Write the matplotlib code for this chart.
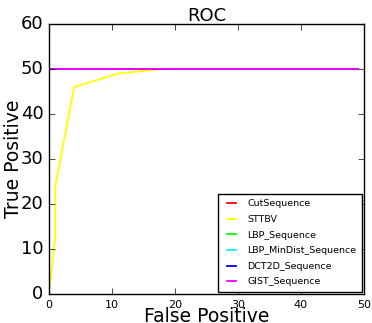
import numpy as np
import matplotlib
matplotlib.use('Agg')
import matplotlib.pyplot as plt

plt.style.use('classic')

names = ['CutSequence', 'STTBV', 'LBP_Sequence', 'LBP_MinDist_Sequence', 'DCT2D_Sequence', 'GIST_Sequence']
colors = ['red', 'yellow', 'lime', 'cyan', 'blue', 'magenta']

# perfect curves: straight up then flat
perfect_fp = [0, 0, 49]
perfect_tp = [0, 50, 50]

sttbv_fp = [0, 1, 1, 4, 11, 18, 49]
sttbv_tp = [0, 13, 24, 46, 49, 50, 50]

curves = {
    'CutSequence': (perfect_fp, perfect_tp),
    'STTBV': (sttbv_fp, sttbv_tp),
    'LBP_Sequence': (perfect_fp, perfect_tp),
    'LBP_MinDist_Sequence': (perfect_fp, perfect_tp),
    'DCT2D_Sequence': (perfect_fp, perfect_tp),
    'GIST_Sequence': (perfect_fp, perfect_tp),
}

fig = plt.figure(figsize=(3.72, 3.23), dpi=100)
ax = fig.add_axes([49/372, 29/323, 315/372, 270/323])
for n, c in zip(names, colors):
    fp, tp = curves[n]
    ax.plot(fp, tp, color=c, label=n, linewidth=1.3)
ax.set_xlim(0, 50)
ax.set_ylim(0, 60)
ax.set_title('ROC', fontsize=13, y=0.985)
ax.set_xlabel('False Positive', fontsize=13.5, labelpad=-2)
ax.set_ylabel('True Positive', fontsize=13.5, labelpad=-2)
ax.tick_params(axis='x', labelsize=8)
ax.tick_params(axis='y', labelsize=13)
ax.legend(loc='lower right', fontsize=6.8, handlelength=1.6, handletextpad=0.9,
          borderpad=0.6, labelspacing=0.7, borderaxespad=0.2)
fig.savefig('out.png', dpi=100)
